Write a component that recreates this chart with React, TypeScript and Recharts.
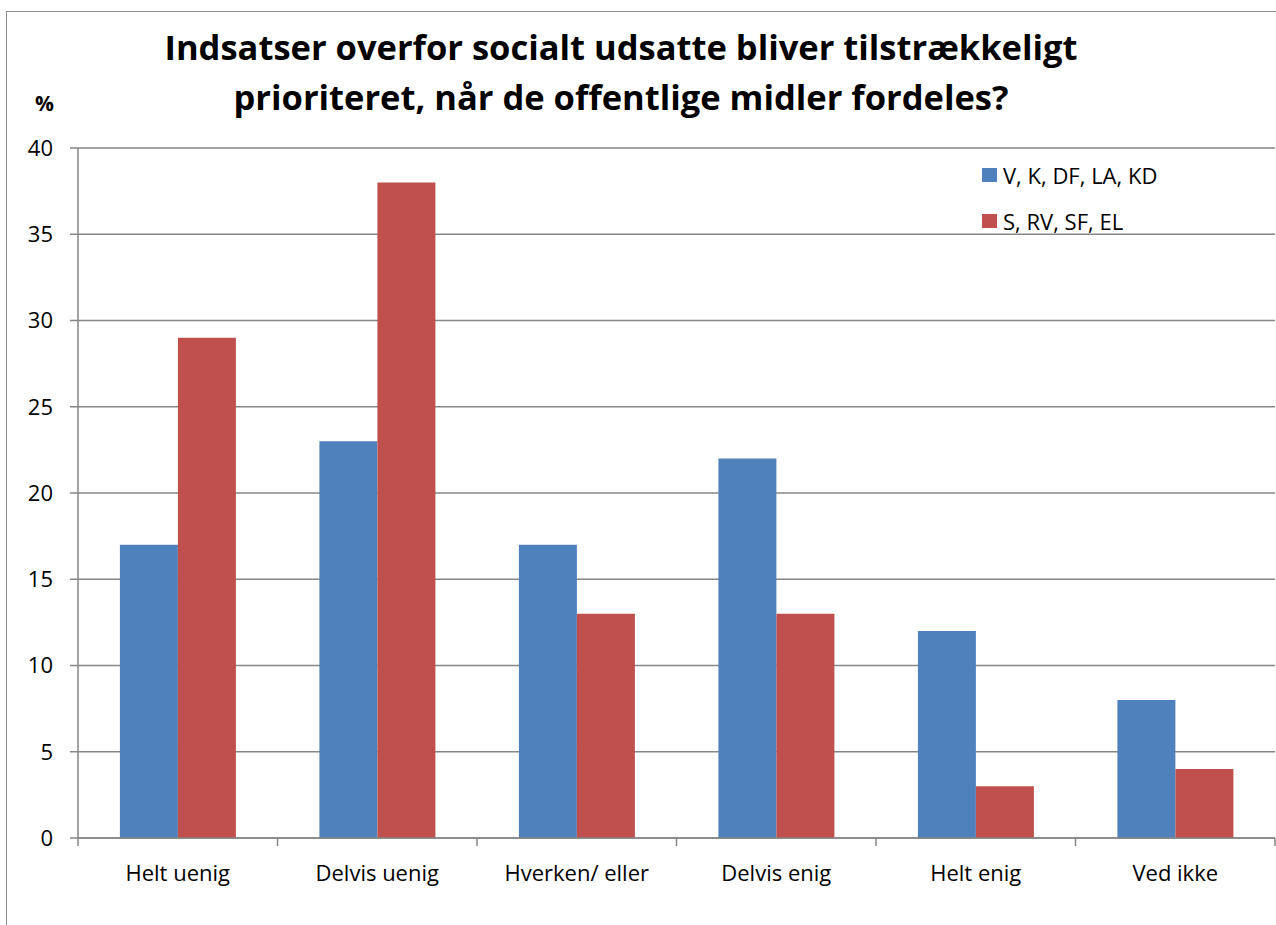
import React from "react";
import { BarChart, Bar, XAxis, YAxis, CartesianGrid } from "recharts";

const categories = ["Helt uenig", "Delvis uenig", "Hverken/ eller", "Delvis enig", "Helt enig", "Ved ikke"];
const blueValues = [17, 23, 17, 22, 12, 8];
const redValues = [29, 38, 13, 13, 3, 4];
const yTicks = [0, 5, 10, 15, 20, 25, 30, 35, 40];
const seriesNames = ["V, K, DF, LA, KD", "S, RV, SF, EL"];

const data = categories.map((name, i) => ({
  name,
  blue: blueValues[i],
  red: redValues[i],
}));

const BLUE = "#4F81BD";
const RED = "#C0504D";
const GREY = "#868686";
const FONT = "'Open Sans', sans-serif";

function CategoryTick(props: any) {
  const { x, y, payload, index } = props;
  const half = payload.offset || 0;
  return (
    <g>
      <line x1={x - half} y1={y - 8} x2={x - half} y2={y} stroke={GREY} strokeWidth={1.5} />
      {index === categories.length - 1 && (
        <line x1={x + half} y1={y - 8} x2={x + half} y2={y} stroke={GREY} strokeWidth={1.5} />
      )}
      <text x={x} y={y + 35} textAnchor="middle" fontSize={22} fontFamily={FONT} fill="#000">
        {payload.value}
      </text>
    </g>
  );
}

function LegendBox() {
  const colors = [BLUE, RED];
  return (
    <div style={{ position: "absolute", left: 982, top: 152, fontFamily: FONT, fontSize: 22, color: "#000" }}>
      {seriesNames.map((n, i) => (
        <div key={n} style={{ display: "flex", alignItems: "center", height: 46 }}>
          <span style={{ display: "inline-block", width: 15, height: 14, background: colors[i], marginRight: 6 }} />
          {n}
        </div>
      ))}
    </div>
  );
}

export default function App() {
  return (
    <div style={{ position: "absolute", left: 0, top: 0, width: 1276, height: 925, overflow: "hidden", background: "#fff" }}>
      <div style={{ position: "absolute", left: 6, top: 11, width: 1400, height: 1000, border: "1.5px solid #8c8c8c" }} />
      <div
        style={{
          position: "absolute",
          left: 0,
          width: 1242,
          top: 22,
          textAlign: "center",
          fontFamily: FONT,
          fontWeight: 700,
          fontSize: 34.5,
          lineHeight: "50px",
        }}
      >
        Indsatser overfor socialt udsatte bliver tilstrækkeligt
        <br />
        prioriteret, når de offentlige midler fordeles?
      </div>
      <div style={{ position: "absolute", left: 35, top: 89, fontFamily: FONT, fontWeight: 700, fontSize: 21 }}>%</div>
      <div style={{ position: "absolute", left: 0, top: 0 }}>
        <BarChart
          width={1276}
          height={925}
          data={data}
          margin={{ top: 148, right: 1, bottom: 27, left: 0 }}
          barCategoryGap="21%"
          barGap={0}
        >
          <CartesianGrid vertical={false} stroke={GREY} strokeWidth={1.5} />
          <XAxis
            dataKey="name"
            height={60}
            axisLine={{ stroke: GREY, strokeWidth: 1.5 }}
            tickLine={false}
            tick={<CategoryTick />}
            interval={0}
          />
          <YAxis
            width={78}
            domain={[0, 40]}
            ticks={yTicks}
            interval={0}
            axisLine={{ stroke: GREY, strokeWidth: 1.5 }}
            tickLine={{ stroke: GREY, strokeWidth: 1.5 }}
            tickSize={8}
            tickMargin={17}
            tick={{ fontSize: 22, fontFamily: FONT, fill: "#000" }}
          />
          <Bar dataKey="blue" name={seriesNames[0]} fill={BLUE} isAnimationActive={false} />
          <Bar dataKey="red" name={seriesNames[1]} fill={RED} isAnimationActive={false} />
        </BarChart>
      </div>
      <LegendBox />
    </div>
  );
}
